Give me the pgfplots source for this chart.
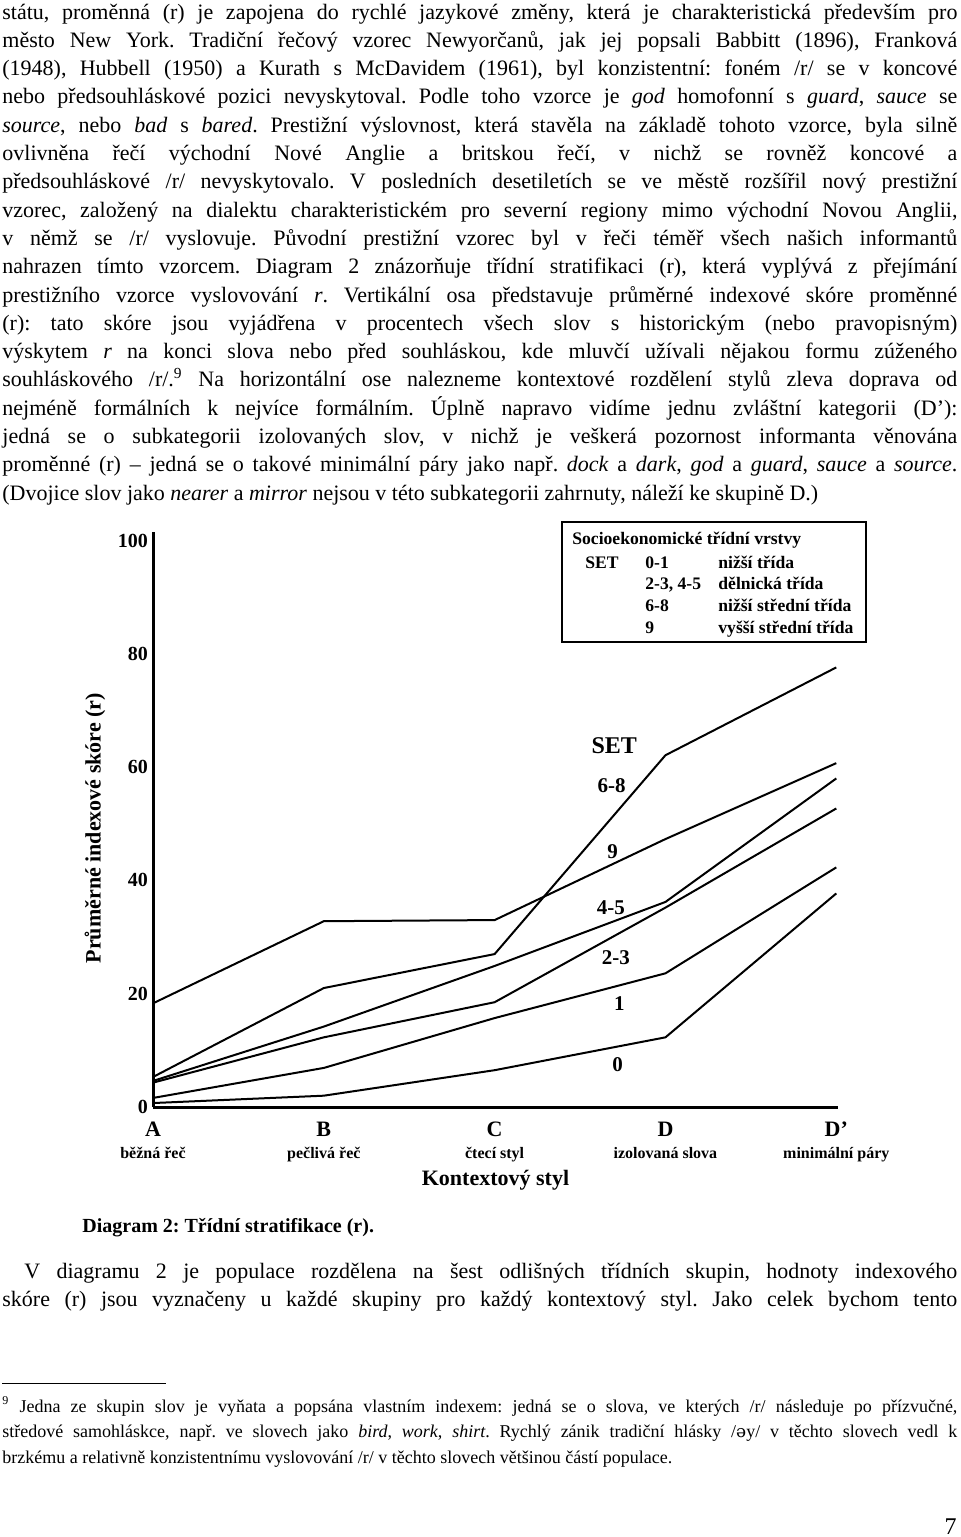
\documentclass[border=0pt]{standalone}
\usepackage{fontspec}
\setmainfont{Liberation Serif}
\newfontfamily\ipafont{DejaVu Serif}
\usepackage{pgfplots}
\pgfplotsset{compat=1.18}

\newcommand{\sub}[1]{{\fontsize{8}{9}\selectfont #1}}

\begin{document}
\frenchspacing
\begin{tikzpicture}[x=1pt,y=1pt]
\path[use as bounding box] (0,0) rectangle (480,-768.5);

% body text above the chart
\node[anchor=base west, inner sep=0, text width=477.5pt, align=justify,
      font=\fontsize{11}{14.15}\selectfont] at (1,-9.5) {%
\frenchspacing\hyphenpenalty=10000 \exhyphenpenalty=10000 \tolerance=9999 \emergencystretch=2em
státu, proměnná (r) je zapojena do rychlé jazykové změny, která je charakteristická především pro\linebreak
město New York. Tradiční řečový vzorec Newyorčanů, jak jej popsali Babbitt (1896), Franková\linebreak
(1948), Hubbell (1950) a Kurath s McDavidem (1961), byl konzistentní: foném /r/ se v~koncové\linebreak
nebo předsouhláskové pozici nevyskytoval. Podle toho vzorce je \textit{god} homofonní s \textit{guard}, \textit{sauce} se\linebreak
\textit{source}, nebo \textit{bad} s \textit{bared}. Prestižní výslovnost, která stavěla na základě tohoto vzorce, byla silně\linebreak
ovlivněna řečí východní Nové Anglie a britskou řečí, v~nichž se rovněž koncové a\linebreak
předsouhláskové /r/ nevyskytovalo. V posledních desetiletích se ve městě rozšířil nový prestižní\linebreak
vzorec, založený na dialektu charakteristickém pro severní regiony mimo východní Novou Anglii,\linebreak
v~němž se /r/ vyslovuje. Původní prestižní vzorec byl v~řeči téměř všech našich informantů\linebreak
nahrazen tímto vzorcem. Diagram 2 znázorňuje třídní stratifikaci (r), která vyplývá z~přejímání\linebreak
prestižního vzorce vyslovování \textit{r}. Vertikální osa představuje průměrné indexové skóre proměnné\linebreak
(r): tato skóre jsou vyjádřena v~procentech všech slov s historickým (nebo pravopisným)\linebreak
výskytem \textit{r} na konci slova nebo před souhláskou, kde mluvčí užívali nějakou formu zúženého\linebreak
souhláskového /r/.\textsuperscript{9} Na horizontální ose nalezneme kontextové rozdělení stylů zleva doprava od\linebreak
nejméně formálních k nejvíce formálním. Úplně napravo vidíme jednu zvláštní kategorii (D’):\linebreak
jedná se o subkategorii izolovaných slov, v~nichž je veškerá pozornost informanta věnována\linebreak
proměnné (r) – jedná se o takové minimální páry jako např. \textit{dock} a \textit{dark}, \textit{god} a \textit{guard}, \textit{sauce} a \textit{source}.\linebreak
(Dvojice slov jako \textit{nearer} a \textit{mirror} nejsou v této subkategorii zahrnuty, náleží ke skupině D.)};

\begin{axis}[
    at={(76.5pt,-553.5pt)}, anchor=south west,
    scale only axis, width=342.5pt, height=287.5pt,
    xmin=0, xmax=4.01, ymin=0, ymax=101.5,
    axis x line*=bottom, axis y line*=left,
    axis line style={line width=1.5pt},
    xtick={0,1,2,3,4}, ytick={0,20,40,60,80,100},
    xticklabels={{A\\\sub{běžná řeč}},{B\\\sub{pečlivá řeč}},{C\\\sub{čtecí styl}},
                 {D\\\sub{izolovaná slova}},{D'\\\sub{minimální páry}}},
    major tick length=0pt,
    /pgf/number format/assume math mode=true,
    tick label style={font=\bfseries\fontsize{10}{12}\selectfont},
    xticklabel style={align=center, font=\bfseries\fontsize{11}{11}\selectfont, yshift=-4pt},
    yticklabel style={xshift=1pt},
    xlabel={Kontextový styl},
    ylabel={Průměrné indexové skóre (r)},
    label style={font=\bfseries\fontsize{11}{13}\selectfont},
    xlabel style={at={(axis description cs:0.5,0)}, anchor=center, yshift=-36.5pt},
    ylabel style={at={(axis description cs:-0.0845,0.485)}, anchor=center, rotate=0},
    clip=false,
]
% SET 9
\addplot[black, line width=1pt, mark=none] coordinates {(0,18.3)(1,32.8)(2,33.0)(3,47.3)(4,60.7)};
% SET 6-8
\addplot[black, line width=1pt, mark=none] coordinates {(0,5.3)(1,21.0)(2,27.0)(3,62.1)(4,77.6)};
% SET 4-5
\addplot[black, line width=1pt, mark=none] coordinates {(0,4.6)(1,14.2)(2,24.9)(3,36.2)(4,58.0)};
% SET 2-3
\addplot[black, line width=1pt, mark=none] coordinates {(0,4.3)(1,12.3)(2,18.5)(3,35.2)(4,52.7)};
% SET 1
\addplot[black, line width=1pt, mark=none] coordinates {(0,1.6)(1,6.9)(2,15.7)(3,23.6)(4,42.3)};
% SET 0
\addplot[black, line width=1pt, mark=none] coordinates {(0,0.7)(1,2.0)(2,6.5)(3,12.3)(4,37.7)};

\node[font=\bfseries\fontsize{12}{12}\selectfont] at (axis cs:2.70,63.8) {SET};
\node[font=\bfseries\fontsize{10.5}{12}\selectfont] at (axis cs:2.685,56.8) {6-8};
\node[font=\bfseries\fontsize{10.5}{12}\selectfont] at (axis cs:2.69,45.0) {9};
\node[font=\bfseries\fontsize{10.5}{12}\selectfont] at (axis cs:2.68,35.1) {4-5};
\node[font=\bfseries\fontsize{10.5}{12}\selectfont] at (axis cs:2.71,26.3) {2-3};
\node[font=\bfseries\fontsize{10.5}{12}\selectfont] at (axis cs:2.73,18.3) {1};
\node[font=\bfseries\fontsize{10.5}{12}\selectfont] at (axis cs:2.72,7.4) {0};
\end{axis}

% legend box
\draw[line width=1.2pt] (281,-261) rectangle (433,-321);
\begin{scope}[every node/.style={anchor=base west, inner sep=0, font=\bfseries\fontsize{8.8}{10}\selectfont}]
\node at (286,-272) {Socioekonomické třídní vrstvy};
\node at (292.5,-284) {SET};
\node at (322.5,-284) {0-1};
\node at (359,-284) {nižší třída};
\node at (322.5,-294.5) {2-3, 4-5};
\node at (359,-294.5) {dělnická třída};
\node at (322.5,-305.5) {6-8};
\node at (359,-305.5) {nižší střední třída};
\node at (322.5,-316.5) {9};
\node at (359,-316.5) {vyšší střední třída};
\end{scope}

% caption
\node[anchor=west, inner sep=0, font=\bfseries\fontsize{10}{12}\selectfont] at (41,-614)
  {Diagram 2: Třídní stratifikace (r).};

% body text below the chart
\node[anchor=base west, inner sep=0, text width=477.5pt, align=justify,
      font=\fontsize{11}{14.1}\selectfont] at (1,-639) {%
\frenchspacing\hyphenpenalty=10000 \tolerance=9999 \emergencystretch=2em
\hspace*{11pt}V diagramu 2 je populace rozdělena na šest odlišných třídních skupin, hodnoty indexového\linebreak
skóre (r) jsou vyznačeny u každé skupiny pro každý kontextový styl. Jako celek bychom tento\linebreak\mbox{}};

% footnote
\draw[line width=0.5pt] (1,-691.5) -- (83,-691.5);
\node[anchor=base west, inner sep=0, text width=477.5pt, align=justify,
      font=\fontsize{9}{12.75}\selectfont] at (1,-706) {%
\frenchspacing\hyphenpenalty=10000 \tolerance=9999 \emergencystretch=2em
\textsuperscript{9} Jedna ze skupin slov je vyňata a popsána vlastním indexem: jedná se o slova, ve kterých /r/ následuje po přízvučné,\linebreak
středové samohláskce, např. ve slovech jako \textit{bird}, \textit{work}, \textit{shirt}. Rychlý zánik tradiční hlásky /{\ipafont\fontsize{8.5}{12}\selectfont ə}y/ v těchto slovech vedl k\linebreak
brzkému a relativně konzistentnímu vyslovování /r/ v těchto slovech většinou částí populace.};

% page number
\node[anchor=base east, inner sep=0, font=\fontsize{12}{14}\selectfont] at (478.5,-767) {7};
\end{tikzpicture}
\end{document}
